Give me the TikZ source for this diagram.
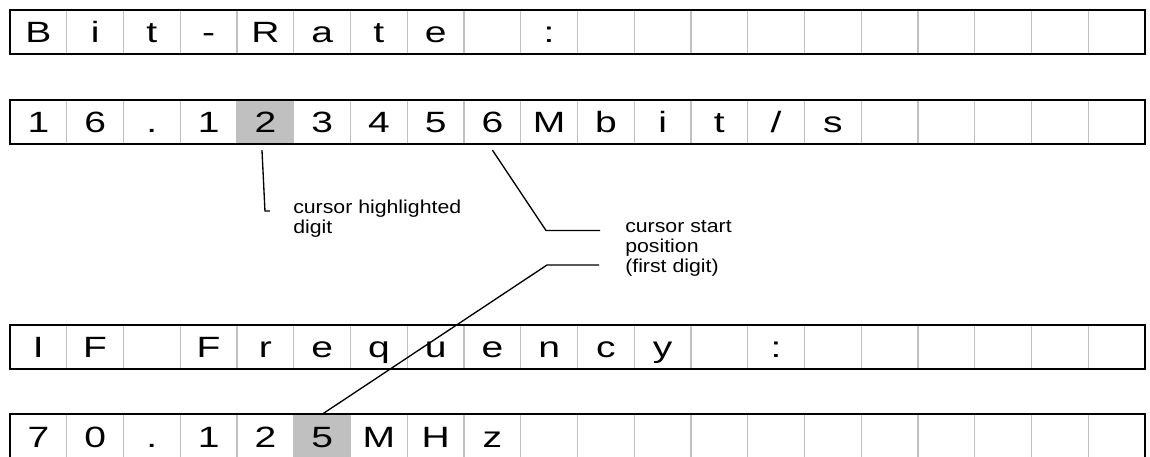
\documentclass[tikz,border=0pt]{standalone}
\usepackage{fontspec}
\setmainfont{Liberation Sans}
\newfontfamily\lcdfont{Liberation Sans}[FakeStretch=1.33]
\newfontfamily\notefont{Liberation Sans}[FakeStretch=1.14]

\definecolor{cellgrid}{HTML}{C0C0C0}
\definecolor{cursorfill}{HTML}{C0C0C0}

\tikzset{
  lcdcell/.style={draw=cellgrid, line width=1pt, minimum width=42.56pt,
    minimum height=33.4pt, inner sep=0pt, outer sep=0pt,
    font=\lcdfont\fontsize{22}{26}\selectfont, text height=15.75pt, text depth=0pt},
  lcdframe/.style={line width=1.5pt},
  leader/.style={line width=1pt},
  note/.style={font=\notefont\fontsize{14}{15}\selectfont, align=left, inner sep=0pt, anchor=base west}
}

\begin{document}
\begin{tikzpicture}[x=0.75pt, y=-0.75pt]
    \useasboundingbox (0,0) rectangle (1150,457);

    % Display rows, 20 characters each
    \foreach \row/\ypos/\hl/\chars in {
        1/32/0/{B,i,t,-,R,a,t,e,{},:,{},{},{},{},{},{},{},{},{},{}},
        2/121.8/5/{1,6,.,1,2,3,4,5,6,M,b,i,t,/,s,{},{},{},{},{}},
        3/346.8/0/{I,F,{},F,r,e,q,u,e,n,c,y,{},:,{},{},{},{},{},{}},
        4/436.5/6/{7,0,.,1,2,5,M,H,z,{},{},{},{},{},{},{},{},{},{},{}}} {
        \foreach \ch [count=\i] in \chars {
            \ifnum\i=\hl \def\cellfill{cursorfill}\else\def\cellfill{none}\fi
            \node[lcdcell, fill=\cellfill] (r\row-\i) at ({10+56.75*(\i-0.5)},\ypos) {\ch};
        }
        \draw[lcdframe] (r\row-1.north west) rectangle (r\row-20.south east);
    }

    % Notes (base = last line)
    \node[note] (hlnote) at (293,233) {cursor highlighted\\digit};
    \node[note] (startnote) at (625,272) {cursor start\\position\\(first digit)};

    \coordinate (startknee) at (546,230.5);
    \coordinate (freqknee) at (547,265);

    % Leader lines
    \draw[leader] (r2-5.south) ++(-3.4,6) -- ++(3,61) -- ++(5,0);
    \draw[leader] (r2-9.south) ++(0,6) -- (startknee) -- ++(54,0);
    \draw[leader] (r4-6.north) -- (freqknee) -- ++(52,0);
\end{tikzpicture}
\end{document}
